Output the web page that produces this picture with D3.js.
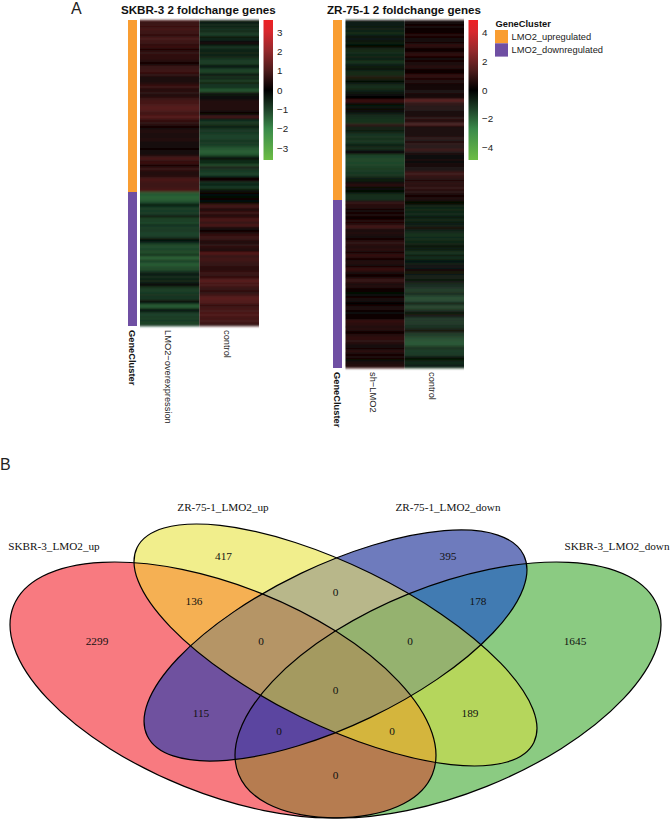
<!DOCTYPE html>
<html><head><meta charset="utf-8">
<script src="https://cdn.jsdelivr.net/npm/d3@7/dist/d3.min.js"></script>
<style>html,body{margin:0;padding:0;background:#fff}svg{display:block}</style>
</head><body><svg id="c" width="670" height="819"></svg>
<script>
const clusters = ["LMO2_upregulated","LMO2_downregulated"];
const clusterColors = ["#f99d31","#6f4fa3"];

const skbrCols = ["LMO2\u2212overexpression","control"];
const skbrCounts = [86,67];
const skbrOver = [.9,.7,.9,.6,1,.7,.9,.5,.8,1,.7,.9,.4,.9,.2,.6,.7,.6,.6,.6,.5,.1,.4,.8,.7,.9,.6,.7,.4,.4,.3,.5,.6,.9,.4,.5,.7,.3,.5,.8,.9,.9,1,1.1,1.1,
 1,.8,.9,1.2,.8,.6,.7,.5,.2,.4,.5,.4,.4,.3,.5,.4,.3,.3,.3,.1,.3,.3,.3,.8,1,.5,.9,.2,.5,.8,.5,.4,.5,.5,1,.9,.8,.8,.8,.9,1,
 -1.4,-1.3,-1.5,-1.4,-1.3,-1,-.1,-.8,-1,-.8,-1,-.7,-.4,-1.1,-.8,-1.2,-.5,-1,-.9,-.9,-1,-1,-.9,-.3,-.2,-.7,-1.1,-1.2,-1,-1.1,-1.2,-.6,-1.4,-1.4,-.8,-1.3,-1.4,-1.1,-1.2,-.9,-.5,-.3,-.8,-.3,-.7,-.3,.2,-.7,-.9,-1,-.8,-.9,-.7,-.9,.1,-.5,-1.3,-1.4,-.5,-.2,-.9,-1,-.9,-1,-.8,-1.1,-.9];
const skbrCtrl = [-.5,-.3,-.8,-.3,-.9,-.6,-.9,-1,.1,-.7,-.2,.4,-.2,-.9,-.5,-.5,-.6,-.5,-.6,-.8,-.9,-1,-.6,-.2,-.9,-1.1,-.8,.2,-.9,-.3,-1.1,.1,-1,-.5,-1.2,-1.3,.3,-.3,.3,-.2,.5,.4,.5,.4,.5,
 .3,.2,-.3,1,-.2,-.8,-.9,-.7,-.3,-.8,-.9,-.8,-1,-1,-1,-.7,-1,-.8,-1.2,-1.3,-1.4,-1.4,-1.2,-.5,.2,-.8,-.1,-1.3,.4,-.9,-.8,-1,-1,-.2,.2,.3,-.8,-.2,-1,-.4,-.3,
 .2,-.2,-.1,.1,-.2,-.1,.8,.9,.3,.5,.9,.4,.6,.9,1,.4,1.1,.5,.3,0,.5,.6,.8,.7,.5,.3,.7,.6,.5,.1,1.2,.8,.7,.9,.8,.7,.7,.6,.5,.6,.8,.7,.6,.9,1.3,.8,1.1,.7,.8,.5,.7,.8,1.1,1.2,1,1.1,.5,.9,.8,1,.9,1.1,.9,.8,1,.7,.8];

const zrCols = ["sh\u2212LMO2","control"];
const zrCounts = [90,84];
const zrSh = [-.5,-.6,-.7,-.5,-.9,-.4,-1,-.7,-.3,-.6,-.3,-.7,-.2,.2,-.9,-.8,-1,-.7,-.9,-.5,-1,-1.1,-.3,-.8,-.1,-.9,-.8,-1,.7,-.8,.1,-.4,-.9,-1,-.8,-.6,-.5,-.3,-.1,.2,1.2,.4,-.2,-.6,.3,-.5,-.3,
 -.9,-.9,-1,-1,-1.1,1,-.6,-.8,-.5,-.9,-1.1,-1.2,-.9,-1.2,-1.1,-.4,-.9,-1,-.3,.2,-1.3,-1.4,-1.5,-1.5,-1.4,-1.5,-1.3,-1.2,-1.3,-1.1,-1.2,-.9,-.4,-.7,.3,.9,-.2,-.4,-.1,-.4,-1,-.9,-1.1,
 .4,1.1,.4,.9,.3,.5,.2,.7,.1,.3,.8,.3,.9,1.3,.5,.5,.6,.5,.4,.2,.7,.9,.7,.5,.8,.6,.2,1,.8,.2,.6,.7,.5,.3,1.1,.7,.5,.3,.2,.9,1,.6,.5,.7,.3,.2,-.2,-.3,.2,.5,.4,-.1,.3,.5,.6,.1,-.3,.2,.3,.1,1.1,.6,.8,.4,.9,.3,.2,.7,.8,.8,.9,.6,.4,.4,.3,.9,.5,.3,.6,.2,-.4,.6,.5,.8];
const zrCtrl = [.5,.4,.2,.5,.1,.3,.2,.8,.3,.4,.5,.2,.9,.8,.3,.1,.7,1,.3,.5,.2,.7,.3,.9,.4,.2,.1,.8,1,.2,.7,.4,.3,.2,.1,.5,.4,.3,.1,.4,1.9,.6,.9,.3,.7,.4,.3,
 .4,.2,.8,.2,.5,1.4,.3,.1,.2,.3,.2,.3,.7,.5,.2,.8,.4,.6,1,.4,.2,.1,.1,.2,.1,.3,.2,.5,.4,.7,1.2,.6,.9,.3,.7,.8,.5,1.1,.4,.9,.5,.2,.7,.4,
 -.2,.3,-.9,-.6,-1,-.5,-1.1,-.7,-.3,-1,-.4,-.6,-.8,.6,-.7,-.9,-1,-1.1,-.7,-1.2,-.4,-1.1,.3,-.8,-.5,-.9,-1.2,-.1,-1.1,-.4,-.2,-.6,-.3,-.5,-.1,.5,-.2,-.4,-.7,.1,-.3,-.8,-.6,-.9,-1,-1.2,-.5,-1,-1.4,-1.4,-1.3,0,-1.2,-1.3,-1,-.3,-.2,.4,-.6,-1.1,-.8,-1.2,-.7,-.9,-.4,.2,-1,-1.1,-1.3,-1.5,-1.6,-1.7,-1.6,-.9,-1,-1.2,-1.1,-1.2,-.3,-.2,-.6,-1,-.3,-.9];

const vennSets = ["SKBR-3_LMO2_up","ZR-75-1_LMO2_up","ZR-75-1_LMO2_down","SKBR-3_LMO2_down"];
const vennCx = [213,325.5,325.5,438];
const vennCy = [166,121,121.5,166];
const vennRx = [225.7,221,208.8,225.7];
const vennRy = [103.9,79.9,80,103.9];
const vennAngle = [21.9,26.15,-25.6,-21.9];
const vennLabelX = [44,213,438,607];
const vennLabelY = [22.5,-17,-17,22.5];
const regionSets = [[0],[1],[2],[3],[0,1],[1,2],[2,3],[0,2],[1,3],[0,3],[0,1,2],[1,2,3],[0,2,3],[0,1,3],[0,1,2,3]];
const regionColors = ["#f87a80","#f1ee8c","#6e7bbd","#8bcb82","#f5b053","#b8b78a","#417bb2","#6f519f","#b5d65c","#b67c50","#b59566","#95b26f","#5b45a0","#d4b53d","#a49a60"];
const regionCounts = [2299,417,395,1645,136,0,178,115,189,0,0,0,0,0,0];
const regionX = [87,213.5,438,565,184,325.5,468,191,460,325.5,251,400,269,382,325.5];
const regionY = [117,32,32,117,77,68,77,189,189,251,117,117,207,207,166];

const svg = d3.select("#c");
const color = v => d3.scaleLinear().domain([-3.6,-2,-1,0,1,2,3,3.6].map(x=>x*v))
  .range(["#6cbd45","#3a8a4a","#1e4229","#000000","#4d1c1c","#93292c","#d8272d","#ed2024"]).clamp(true);
const SANS = "'Liberation Sans',Arial,sans-serif", SERIF = "'Liberation Serif','Times New Roman',serif";

const blur = svg.append("defs").append("filter").attr("id","rowblur").attr("x","-2%").attr("width","104%").attr("y","-2%").attr("height","104%");
blur.append("feGaussianBlur").attr("stdDeviation","0.35 0.8");

function heat(cfg){
  const g = svg.append("g");
  const rows = d3.sum(cfg.counts);
  const y = d3.scaleLinear().domain([0,rows]).range([cfg.top,cfg.bottom]);
  const x = d3.scaleBand().domain(cfg.cols).range([cfg.left,cfg.right]);
  const c = color(cfg.vmax/3.6);
  const cells = g.append("g").attr("filter","url(#rowblur)");
  cfg.cols.forEach((name,i)=>{
    const yc = d3.scaleLinear().domain([0,cfg.vals[i].length]).range([cfg.top,cfg.bottom]);
    cells.append("g").selectAll("rect").data(cfg.vals[i]).join("rect")
      .attr("x",x(name)).attr("width",x.bandwidth())
      .attr("y",(d,k)=>yc(k)).attr("height",(d,k)=>yc(k+1)-yc(k)+.3)
      .attr("fill",d=>c(d));
    g.append("text").attr("transform",`translate(${x(name)+x.bandwidth()/2-5},${cfg.bottom+4}) rotate(90)`)
      .attr("font-family",SANS).attr("font-size",9.3).attr("fill","#222").text(name);
  });
  let cum=0;
  cfg.counts.forEach((n,i)=>{
    g.append("rect").attr("x",cfg.annX).attr("width",9).attr("y",y(cum)).attr("height",y(cum+n)-y(cum)).attr("fill",clusterColors[i]);
    cum+=n;
  });
  g.append("text").attr("transform",`translate(${cfg.annX+1},${cfg.bottom+4}) rotate(90)`)
    .attr("font-family",SANS).attr("font-size",9.3).attr("font-weight","bold").attr("fill","#111").text("GeneCluster");
  g.append("text").attr("x",cfg.titleX).attr("y",14).attr("font-family",SANS).attr("font-size",11.6).attr("font-weight","bold").attr("fill","#111").text(cfg.title);
  const cy = d3.scaleLinear().domain([cfg.vmax,-cfg.vmax]).range([20,160]);
  const id = "grad"+cfg.annX;
  const grad = svg.append("defs").append("linearGradient").attr("id",id).attr("x1",0).attr("x2",0).attr("y1",0).attr("y2",1);
  c.domain().slice().reverse().forEach(d=>grad.append("stop").attr("offset",(cy(d)-20)/140).attr("stop-color",c(d)));
  g.append("rect").attr("x",cfg.barX).attr("y",20).attr("width",9.5).attr("height",140).attr("fill",`url(#${id})`);
  const ax = d3.axisRight(cy).tickValues(cfg.ticks).tickSize(0).tickPadding(3.5).tickFormat(d=>String(d).replace("-","\u2212"));
  const ag = g.append("g").attr("transform",`translate(${cfg.barX+10},0)`).call(ax);
  ag.select(".domain").remove();
  ag.selectAll("text").attr("font-family",SANS).attr("font-size",9.8).attr("fill","#222");
}
heat({title:"SKBR-3 2 foldchange genes",titleX:121,annX:128,left:140,right:259,top:20,bottom:326,barX:263.5,vals:[skbrOver,skbrCtrl],cols:skbrCols,counts:skbrCounts,vmax:3.62,ticks:[3,2,1,0,-1,-2,-3]});
heat({title:"ZR-75-1 2 foldchange genes",titleX:327,annX:333,left:345.5,right:464,top:20,bottom:368,barX:468.5,vals:[zrSh,zrCtrl],cols:zrCols,counts:zrCounts,vmax:4.9,ticks:[4,2,0,-2,-4]});

const lg = svg.append("g");
lg.append("text").attr("x",495.5).attr("y",27).attr("font-family",SANS).attr("font-size",9.3).attr("font-weight","bold").attr("fill","#111").text("GeneCluster");
clusters.forEach((n,i)=>{
  lg.append("rect").attr("x",495).attr("y",30+i*13.3).attr("width",13).attr("height",13.3).attr("fill",clusterColors[i]);
  lg.append("text").attr("x",511.5).attr("y",40+i*13.3).attr("font-family",SANS).attr("font-size",9.3).attr("fill","#222").text(n);
});
svg.append("text").attr("x",71).attr("y",13.5).attr("font-family",SANS).attr("font-size",16).attr("fill","#222").text("A");
svg.append("text").attr("x",0).attr("y",470).attr("font-family",SANS).attr("font-size",16).attr("fill","#222").text("B");

const vx = d3.scaleLinear().domain([0,651]).range([10,661]);
const vy = d3.scaleLinear().domain([0,295]).range([524,819]);
const defs = svg.append("defs");
const ell = (sel,i)=>sel.attr("cx",vx(vennCx[i])).attr("cy",vy(vennCy[i])).attr("rx",vennRx[i]).attr("ry",vennRy[i])
  .attr("transform",`rotate(${vennAngle[i]} ${vx(vennCx[i])} ${vy(vennCy[i])})`);
vennSets.forEach((s,i)=>defs.append("clipPath").attr("id","v"+i).append("ellipse").call(ell,i));
const vg = svg.append("g");
regionSets.forEach((set,ri)=>{
  let g = vg;
  set.forEach(s=>{ g = g.append("g").attr("clip-path",`url(#v${s})`); });
  g.append("rect").attr("x",0).attr("y",500).attr("width",670).attr("height",319).attr("fill",regionColors[ri]);
});
vennSets.forEach((s,i)=>vg.append("ellipse").call(ell,i).attr("fill","none").attr("stroke","#000").attr("stroke-width",1.2));
vg.selectAll("text.c").data(regionCounts).join("text").attr("class","c")
  .attr("x",(d,i)=>vx(regionX[i])).attr("y",(d,i)=>vy(regionY[i])).attr("text-anchor","middle").attr("dy","0.35em")
  .attr("font-family",SERIF).attr("font-size",11.3).attr("fill","#111").text(d=>d);
vg.selectAll("text.l").data(vennSets).join("text").attr("class","l")
  .attr("x",(d,i)=>vx(vennLabelX[i])).attr("y",(d,i)=>vy(vennLabelY[i])).attr("text-anchor","middle").attr("dy","0.35em")
  .attr("font-family",SERIF).attr("font-size",11.2).attr("fill","#111").text(d=>d);
</script></body></html>
